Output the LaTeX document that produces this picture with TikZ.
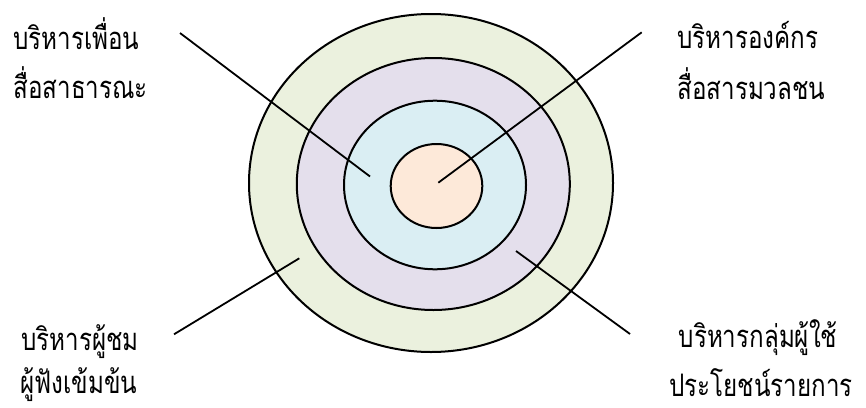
\documentclass[tikz,border=0pt]{standalone}
\usepackage{fontspec}
\usepackage{xcolor}
\usepackage{tikz}
\usetikzlibrary{shapes.geometric}
\newfontfamily\thaifont[Script=Thai, FakeStretch=0.78]{Loma}
\definecolor{ringgreen}{HTML}{EBF1DE}
\definecolor{ringpurple}{HTML}{E4DFEC}
\definecolor{ringblue}{HTML}{DAEEF3}
\definecolor{ringpeach}{HTML}{FDE9D9}

\begin{document}
\begin{tikzpicture}[
    x=0.5pt, y=-0.5pt,
    ring/.style={draw, ellipse, line width=1pt, inner sep=0pt},
    pointer/.style={line width=0.9pt},
    label/.style={font=\thaifont\fontsize{15.5}{20}\selectfont, inner sep=0pt}
]
    \useasboundingbox (0,0) rectangle (866,407);

    % Rings, outer to inner
    \node[ring, fill=ringgreen, minimum width=182pt, minimum height=169pt] (outer) at (431,183) {};
    \node[ring, fill=ringpurple, minimum width=136.5pt, minimum height=126pt] (middle) at (433.3,184) {};
    \node[ring, fill=ringblue, minimum width=91pt, minimum height=84.3pt] (inner) at (435,185) {};
    \node[ring, fill=ringpeach, minimum width=45.8pt, minimum height=42pt] (core) at (436.5,186) {};

    % Labels
    \node[label, anchor=base west] (friends1) at (13,49) {บริหารเพื่อน};
    \node[label, anchor=base west] (friends2) at (13,98) {สื่อสาธารณะ};
    \node[label, anchor=base west] (org1) at (677,48) {บริหารองค์กร};
    \node[label, anchor=base west] (org2) at (677,99) {สื่อสารมวลชน};
    \node[label, anchor=base west] (viewer1) at (21,350) {บริหารผู้ชม};
    \node[label, anchor=base west] (viewer2) at (20,393) {ผู้ฟังเข้มข้น};
    \node[label, anchor=base] (user1) at (758,347) {บริหารกลุ่มผู้ใช้};
    \node[label, anchor=base] (user2) at (761,396) {ประโยชน์รายการ};

    % Pointer ends
    \coordinate (friendsA) at (180,33);
    \coordinate (friendsB) at (370,176.5);
    \coordinate (orgA) at (641.7,32.3);
    \coordinate (orgB) at (438.3,182.7);
    \coordinate (viewerA) at (174,334.3);
    \coordinate (viewerB) at (299.3,258.3);
    \coordinate (userA) at (630,334);
    \coordinate (userB) at (516,251);

    % Pointers
    \draw[pointer] (friendsA) -- (friendsB);
    \draw[pointer] (orgA) -- (orgB);
    \draw[pointer] (viewerA) -- (viewerB);
    \draw[pointer] (userA) -- (userB);
\end{tikzpicture}
\end{document}
